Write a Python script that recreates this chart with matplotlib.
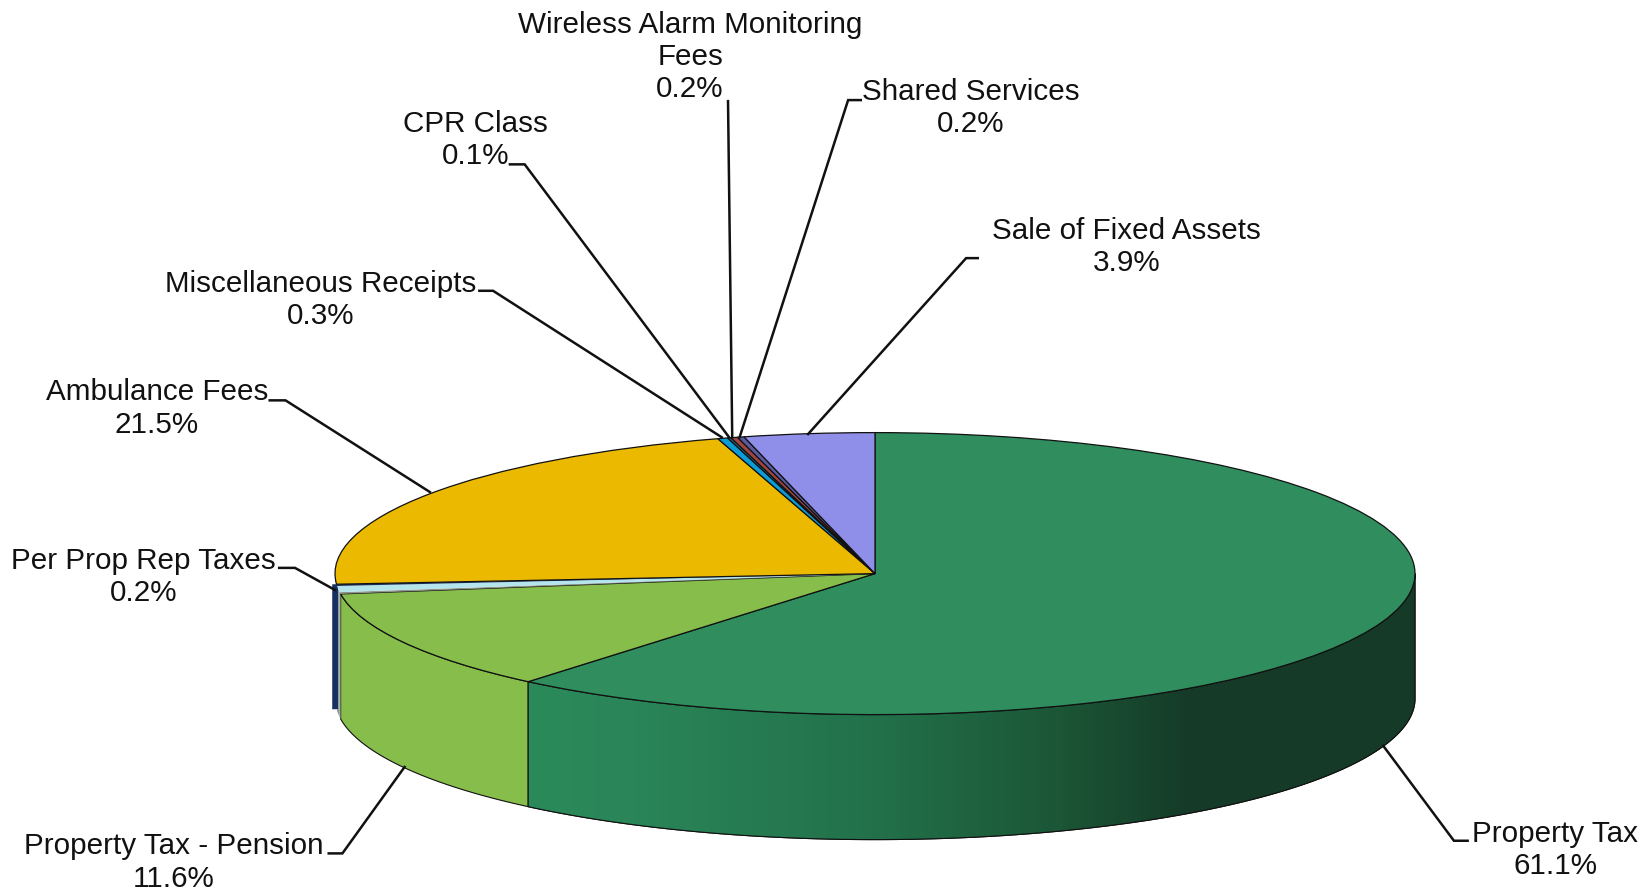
import numpy as np
import matplotlib
matplotlib.use('Agg')
import matplotlib.pyplot as plt
from matplotlib.colors import LinearSegmentedColormap
from matplotlib.patches import Polygon

plt.rcParams['font.family'] = ['Liberation Sans', 'DejaVu Sans']

# slices, clockwise from 12 o'clock. two slivers have no label in the chart
names = ['Property Tax', 'Property Tax - Pension', '', '', 'Per Prop Rep Taxes', 'Ambulance Fees',
         'Miscellaneous Receipts', 'CPR Class', 'Wireless Alarm Monitoring\nFees', 'Shared Services',
         'Sale of Fixed Assets']
values = [61.1, 11.6, 0.2, 0.7, 0.2, 21.5, 0.3, 0.1, 0.2, 0.2, 3.9]
colors = ['#2f8d5e', '#86bd4b', '#8f9488', '#b4e4ec', '#17305f', '#ebba00',
          '#0b9bd6', '#1a6a8a', '#a2453f', '#5a5aa0', '#8f8fea']
wall_colors = ['#2f8d5e', '#86bd4b', '#8f9488', '#8f9c9c', '#17305f']

# label layout, in pixels of the 1568 wide preview
label_pos = [(1476, 789), (165, 801), None, None, (136, 530), (149, 370),
             (304, 267), (451, 115), (655, 21), (921, 85), (1069, 217)]
leaders = [[(1393, 798), (1380, 798), (1313, 708)],
           [(312, 810), (325, 810), (384, 728)],
           None, None,
           [(265, 539), (280, 539), (318, 560)],
           [(256, 380), (271, 380), (408, 467)],
           [(455, 276), (468, 276), (685, 415)],
           [(484, 156), (498, 156), (692, 415)],
           [(691, 96), (695, 415)],
           [(817, 95), (805, 95), (702, 415)],
           [(928, 245), (917, 245), (767, 412)]]

W, H = 1652, 891
S = W / 1568
cx, cy = 875, 573.6
rx, ry = 540, 141
depth = 125 / ry

fig = plt.figure(figsize=(W / 100, H / 100), dpi=100)
ax = fig.add_axes([0, 0, 1, 1])


def to_data(x, y):
    return (x * S - cx) / rx, (cy - y * S) / ry


wedges, _ = ax.pie(values, colors=colors, startangle=90, counterclock=False,
                   wedgeprops={'edgecolor': '#111111', 'linewidth': 0.9})
for i, w in enumerate(wedges):
    w.set_zorder(3)
    if i in (2, 3, 4):
        w.set_linewidth(0)

# side walls, only the slices up to the navy one show theirs
ends = np.cumsum(values) * 3.6
starts = ends - np.array(values) * 3.6
for i in range(len(wall_colors)):
    a0, a1 = max(starts[i], 90), min(ends[i], 270)
    if a1 <= a0:
        continue
    t = np.radians(np.linspace(a0, a1, 200))
    xs, ys = np.sin(t), np.cos(t)
    lw = 0.8
    if i in (2, 3):
        lw = 0
    if i == 4:
        # this one shows its cut face, sticking out past the rim
        r = np.linspace(0.9973, 1.008, 20)
        xs, ys = r * np.sin(t[-1]), r * np.cos(t[-1])
        lw = 0
    pts = np.column_stack([np.r_[xs, xs[::-1]], np.r_[ys, ys[::-1] - depth]])
    poly = Polygon(pts, closed=True, facecolor=wall_colors[i], edgecolor='#111111', linewidth=lw, zorder=2)
    ax.add_patch(poly)
    if i == 0:
        # dark shading across the big wall
        cmap = LinearSegmentedColormap.from_list('wall', [(0, '#2a8a5a'), (0.12, '#2a8558'), (0.4, '#22704a'),
                                                          (0.6, '#1b5636'), (0.75, '#153a27'), (1, '#153a27')])
        im = ax.imshow(np.linspace(0, 1, 256)[None, :], cmap=cmap, aspect='auto', zorder=2.1,
                       extent=[xs.min(), xs.max(), ys.min() - depth, ys.max()])
        im.set_clip_path(poly)
        outline = Polygon(pts, closed=True, fill=False, edgecolor='#111111', linewidth=0.8, zorder=2.2)
        ax.add_patch(outline)

ax.set_aspect('auto')
ax.set_xlim(-cx / rx, (W - cx) / rx)
ax.set_ylim((cy - H) / ry, cy / ry)
ax.axis('off')

for i, pos in enumerate(label_pos):
    if pos is None:
        continue
    x, y = to_data(*pos)
    txt = '%s\n%.1f%%' % (names[i], values[i])
    ax.text(x, y + 11 * S / ry, txt, ha='center', va='top', fontsize=21.3, color='#111111', linespacing=1.2,
            zorder=5, clip_on=False)
    line = np.array([to_data(px, py) for px, py in leaders[i]])
    ax.plot(line[:, 0], line[:, 1], color='#111111', lw=1.8, zorder=4, solid_joinstyle='miter')

fig.savefig('out.png', dpi=100)
